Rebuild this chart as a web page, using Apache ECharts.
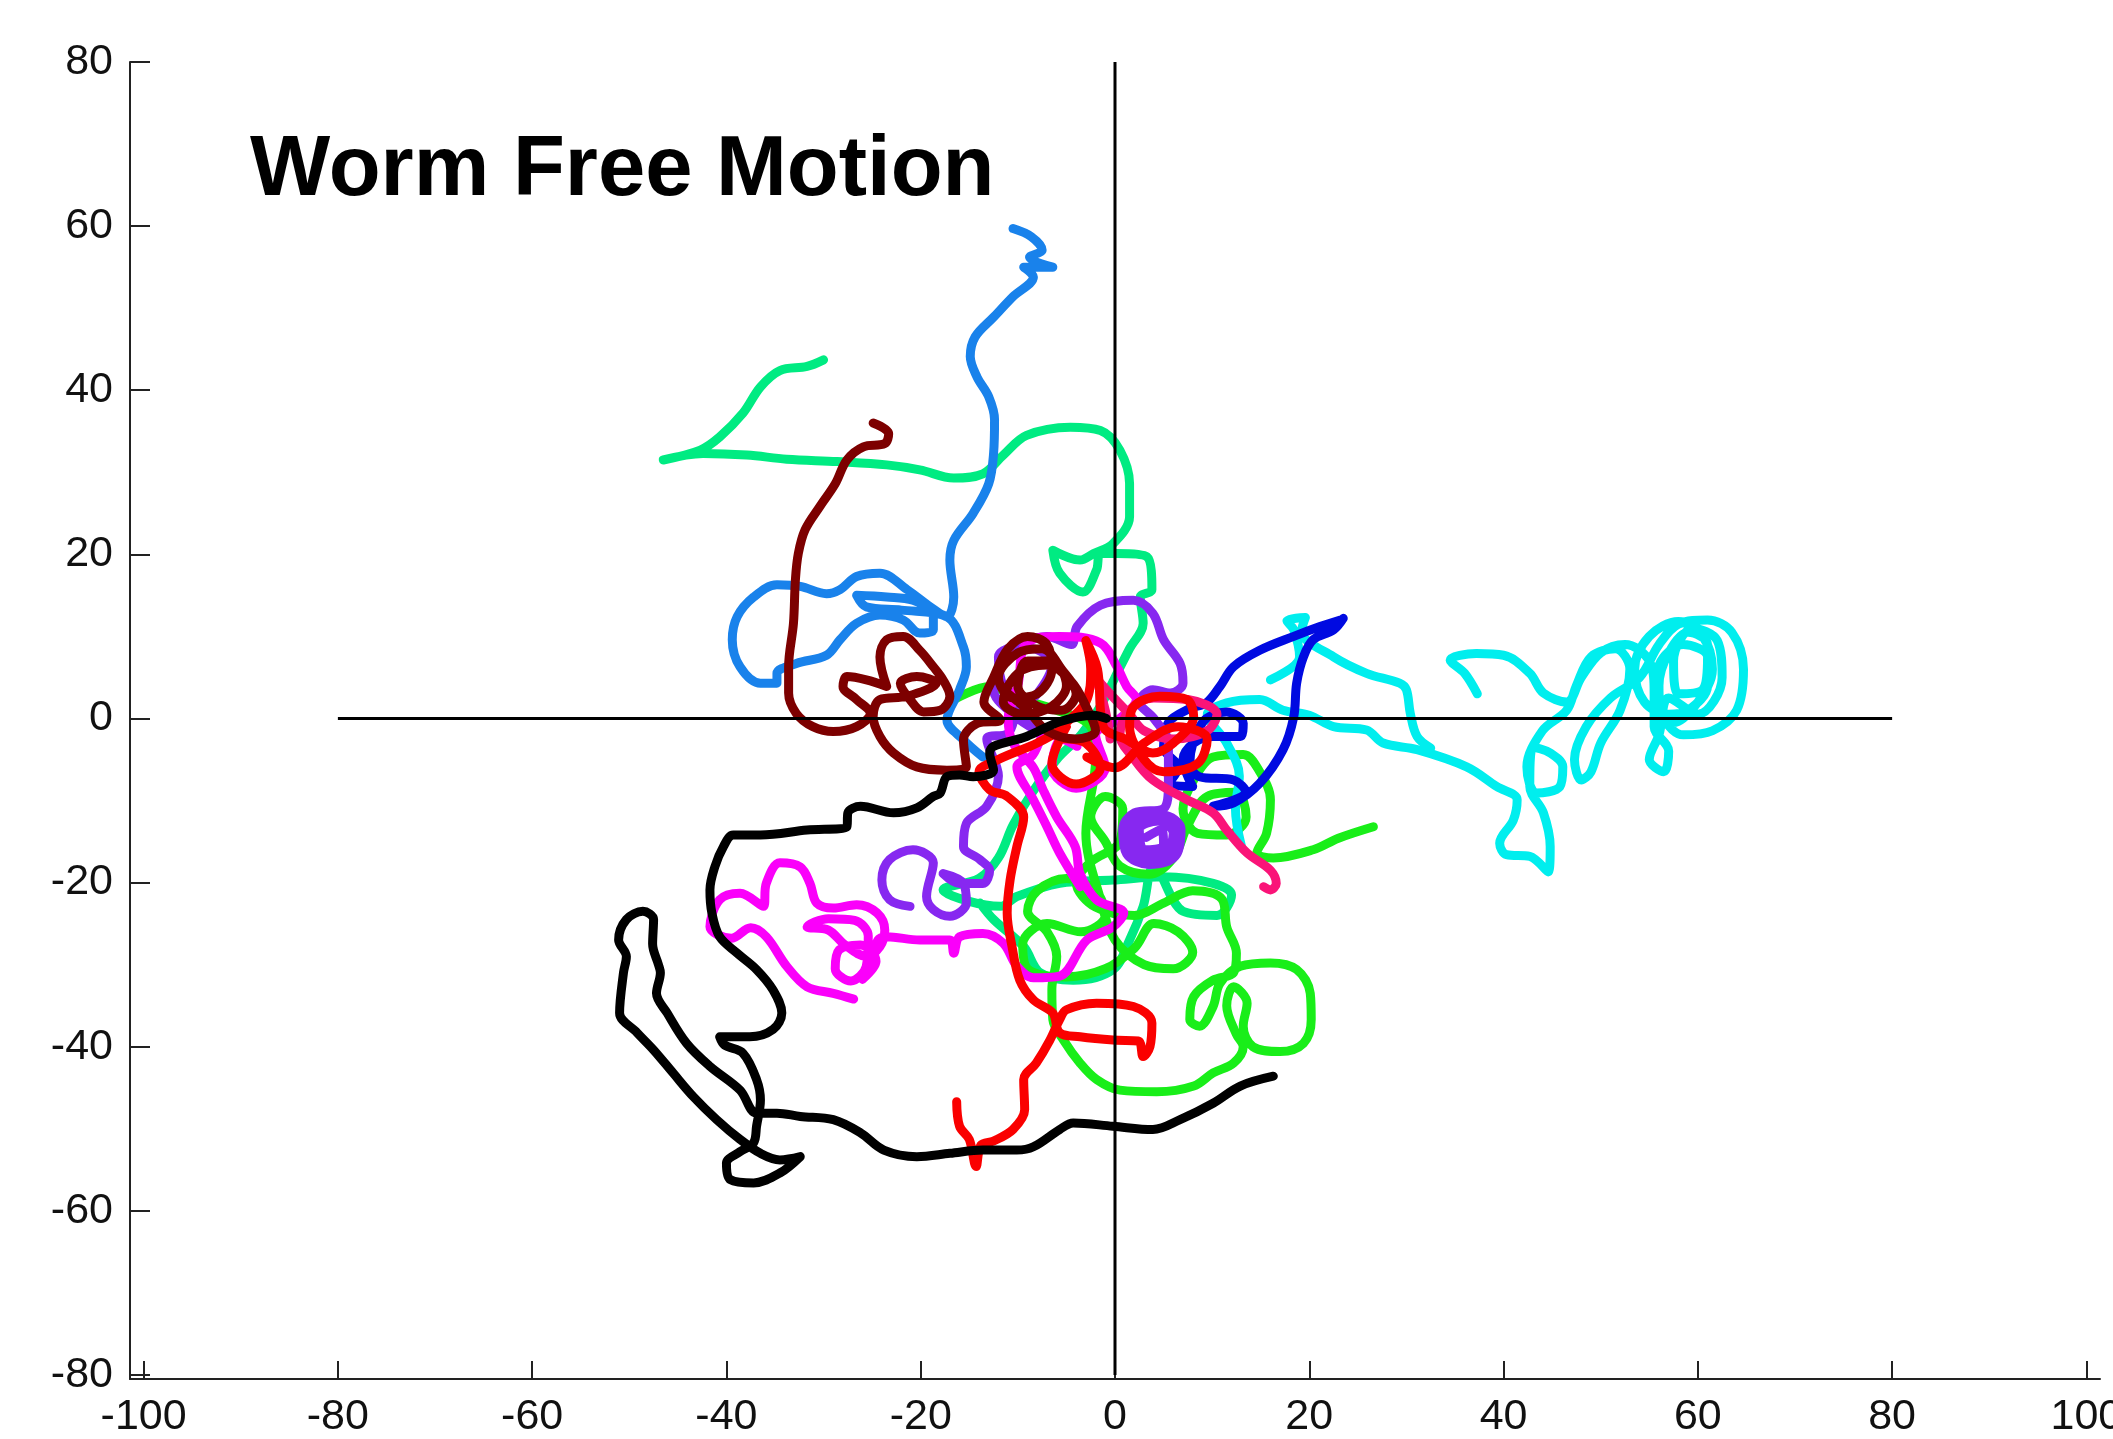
<!DOCTYPE html>
<html>
<head>
<meta charset="utf-8">
<script src="https://cdn.jsdelivr.net/npm/echarts@6/dist/echarts.min.js"></script>
<style>
html,body{margin:0;padding:0;background:#fff;}
#chart{width:2113px;height:1439px;}
</style>
</head>
<body>
<div id="chart"></div>
<script>
// ---------------- DATA ----------------
const titleText = "Worm Free Motion";
const xTicks = [-100, -80, -60, -40, -20, 0, 20, 40, 60, 80, 100];
const yTicks = [-80, -60, -40, -20, 0, 20, 40, 60, 80];

const crossV = [[0, 80], [0, -80]];
const crossH = [[-80, 0], [80, 0]];

const wormDodger = [[-10.5,59.7],[-8.6,58.7],[-7.5,57.1],[-8.8,56.2],[-6.4,55.0],[-9.4,55.0],[-8.4,53.8],[-10.5,51.4],[-12.5,48.9],[-14.4,46.5],[-14.9,44.1],[-14.2,41.6],[-13.0,39.2],[-12.4,36.4],[-12.5,32.3],[-13.0,28.6],[-14.6,25.0],[-16.6,21.7],[-17.0,19.3],[-16.6,14.8],[-17.3,12.4],[-19.0,13.6],[-21.4,15.7],[-24.2,17.7],[-26.6,17.3],[-28.3,15.7],[-29.7,15.2],[-32.4,16.1],[-34.8,16.3],[-37.2,14.8],[-38.9,12.4],[-39.4,9.6],[-38.6,6.3],[-36.5,4.3],[-34.8,4.3],[-34.8,5.5],[-32.8,6.7],[-29.7,7.7],[-28.3,9.6],[-26.6,11.6],[-24.2,12.6],[-21.8,12.0],[-20.1,10.4],[-18.7,10.8],[-18.7,12.8],[-20.8,14.4],[-23.5,14.8],[-26.6,15.0],[-25.6,13.6],[-22.0,13.2],[-17.3,12.4],[-15.6,8.7],[-15.3,6.3],[-16.0,3.5],[-17.3,-0.2],[-15.6,-2.6],[-13.6,-4.7]];

const wormSpring = [[-30.0,43.7],[-31.7,42.9],[-34.5,42.4],[-36.5,40.4],[-38.3,37.2],[-40.7,34.3],[-42.7,32.7],[-46.5,31.5],[-42.4,32.3],[-37.9,32.1],[-33.8,31.6],[-28.6,31.3],[-23.5,30.9],[-20.1,30.3],[-16.6,29.3],[-13.6,29.8],[-11.5,32.1],[-9.1,34.5],[-4.6,35.5],[-1.5,35.1],[0.5,32.7],[1.5,28.6],[1.5,24.6],[-0.2,21.3],[-2.2,20.1],[-3.6,19.3],[-6.4,20.5],[-5.7,17.7],[-3.3,15.4],[-1.9,18.1],[-1.5,20.1],[0.2,20.1],[3.3,19.7],[3.8,15.7],[2.6,14.8],[2.9,11.6],[1.5,8.5],[0.0,5.0],[-1.5,1.5],[-3.5,-2.0],[-6.0,-5.0],[-8.5,-9.0],[-10.5,-13.0],[-12.0,-17.0],[-14.0,-19.5],[-17.7,-20.9],[-15.0,-22.3],[-11.8,-22.9],[-10.1,-21.7],[-5.7,-20.1],[-0.2,-19.7],[5.0,-19.3],[10.1,-20.1],[12.0,-21.5],[10.5,-24.0],[7.0,-23.5],[4.0,-18.0],[2.9,-22.9],[1.5,-27.0],[-0.2,-30.6],[-4.3,-31.9],[-7.7,-31.0],[-9.4,-27.8],[-12.5,-24.5],[-13.9,-22.5]];

const wormLime = [[26.6,-13.2],[23.0,-14.6],[20.4,-16.0],[16.3,-17.0],[14.6,-16.4],[15.6,-14.0],[16.0,-9.9],[14.9,-6.5],[13.2,-4.4],[10.1,-4.7],[8.1,-7.5],[7.0,-11.0],[8.5,-14.0],[11.5,-14.2],[13.5,-12.0],[12.5,-9.0],[9.5,-9.5],[7.5,-13.0],[6.0,-17.0],[3.5,-19.0],[0.5,-18.0],[-1.0,-15.0],[-2.5,-12.0],[-1.0,-9.5],[0.8,-11.0],[0.5,-15.0],[-2.5,-17.5],[-4.0,-20.0],[-2.0,-23.0],[2.0,-24.0],[5.0,-22.5],[8.0,-21.0],[11.0,-22.0],[11.5,-25.4],[12.5,-28.6],[12.2,-31.0],[10.1,-31.9],[8.1,-33.9],[7.7,-36.7],[8.7,-37.5],[10.1,-35.1],[10.8,-32.3],[12.9,-30.2],[16.0,-29.8],[18.7,-30.6],[20.1,-33.5],[20.2,-36.7],[19.4,-39.6],[17.0,-40.6],[14.2,-40.0],[13.2,-37.5],[13.6,-34.7],[12.2,-32.7],[11.5,-35.0],[12.5,-38.5],[13.2,-40.0],[12.2,-42.0],[10.1,-43.2],[8.1,-44.8],[4.3,-45.5],[0.5,-45.3],[-1.9,-44.0],[-3.6,-42.0],[-5.3,-39.2],[-6.4,-36.7],[-6.5,-33.0],[-6.0,-29.0],[-7.0,-26.0],[-9.0,-23.5],[-8.0,-21.0],[-5.0,-19.5],[-2.0,-21.0],[-1.0,-24.0],[-3.5,-26.0],[-7.0,-25.0],[-9.5,-27.5],[-9.0,-30.5],[-5.0,-31.5],[-1.0,-30.5],[2.0,-28.0],[4.0,-25.0],[6.5,-26.0],[8.0,-28.5],[6.0,-30.5],[3.0,-30.0],[0.0,-27.0],[-1.5,-22.0],[-3.0,-14.0],[-2.0,-5.0],[-2.5,-1.0],[-6.0,1.0],[-10.0,2.5],[-12.9,3.9],[-16.6,2.3]];

const wormCyan = [[13.0,-15.5],[12.4,-11.0],[12.8,-7.0],[11.5,-3.0],[9.5,0.5],[11.5,1.9],[14.9,2.3],[17.3,1.0],[20.0,0.4],[22.5,-1.0],[25.9,-1.4],[27.6,-3.0],[31.1,-3.8],[36.2,-5.9],[39.3,-8.3],[41.4,-9.9],[41.0,-12.4],[39.6,-15.2],[40.3,-16.6],[42.7,-16.8],[44.6,-18.7],[44.8,-15.6],[44.1,-11.5],[42.7,-8.3],[43.0,-3.5],[44.8,-4.2],[46.1,-5.9],[45.8,-8.3],[43.4,-9.1],[42.4,-5.9],[44.0,-1.5],[46.5,1.0],[47.5,4.0],[49.0,7.5],[51.5,8.5],[53.0,6.0],[52.0,1.0],[50.0,-3.0],[49.0,-6.5],[48.0,-7.5],[47.3,-5.0],[48.5,-1.0],[51.0,2.5],[54.0,5.0],[56.0,9.0],[58.0,11.5],[61.0,12.0],[63.5,10.5],[64.7,6.0],[64.0,1.0],[61.5,-1.5],[58.5,-2.0],[56.5,0.0],[56.0,4.0],[57.0,8.0],[59.0,10.5],[61.0,9.0],[61.0,4.0],[59.0,1.0],[57.0,0.5],[54.5,2.0],[53.5,6.0],[55.0,10.0],[58.0,11.8],[60.5,10.0],[61.5,6.0],[60.0,2.0],[57.5,-0.5],[55.5,1.5],[56.0,6.5],[58.5,9.0],[61.0,7.5],[60.5,3.5],[58.0,3.0],[57.5,7.0],[59.5,11.0],[62.0,9.5],[62.5,5.0],[60.0,0.5],[57.0,2.5],[56.0,-2.0],[55.0,-5.0],[56.5,-6.5],[57.0,-4.0],[55.5,-1.0],[55.5,3.0],[55.0,7.0],[52.5,9.0],[50.0,8.0],[48.0,5.0],[46.5,2.0],[44.1,3.1],[42.7,5.5],[40.0,7.7],[37.2,7.9],[34.5,7.1],[36.0,5.5],[37.3,3.0]];

const wormCyanUpper = [[16.0,4.7],[19.0,7.5],[18.4,10.8],[17.7,11.9],[19.6,12.3],[19.2,10.6],[22.5,7.5],[25.9,5.5],[29.3,4.3],[30.0,3.5],[30.4,0.6],[31.1,-2.2],[32.5,-3.6]];

const wormBlue = [[23.2,12.0],[21.1,11.2],[18.4,10.0],[14.9,8.3],[12.2,6.3],[10.8,3.9],[9.4,1.9],[7.7,1.2],[5.5,-0.5],[5.0,-3.5],[6.5,-6.0],[5.5,-8.0],[8.0,-8.3],[7.0,-5.0],[8.1,-3.0],[10.1,-2.2],[12.9,-2.2],[13.2,-0.6],[11.5,0.8],[9.0,-0.5],[7.7,-5.5],[8.7,-7.1],[12.2,-7.5],[13.5,-9.0],[10.1,-10.7],[12.2,-10.3],[14.9,-7.9],[17.3,-3.8],[18.4,0.2],[18.7,4.3],[19.4,7.5],[20.4,9.6],[22.5,10.8],[23.5,12.2]];

const wormPurple = [[-21.1,-22.9],[-23.2,-22.1],[-24.0,-19.7],[-23.2,-17.2],[-20.8,-16.0],[-18.7,-17.6],[-19.4,-21.7],[-18.7,-23.3],[-17.0,-24.1],[-15.3,-22.5],[-15.6,-20.1],[-17.7,-18.9],[-16.0,-20.1],[-13.6,-20.1],[-12.9,-18.5],[-13.9,-17.2],[-15.6,-15.6],[-15.3,-12.8],[-13.2,-10.7],[-12.0,-7.0],[-13.2,-2.5],[-11.0,-1.8],[-10.0,1.0],[-8.0,3.0],[-6.5,6.5],[-8.5,8.5],[-11.5,7.0],[-12.5,3.5],[-10.5,0.5],[-8.0,-1.5],[-10.0,2.5],[-11.5,4.0],[-12.0,7.5],[-10.0,9.0],[-7.0,10.0],[-4.5,9.0],[-3.9,11.2],[-1.5,13.8],[1.9,14.4],[3.9,12.8],[5.0,9.6],[6.7,6.7],[7.0,4.3],[5.7,3.1],[3.9,3.5],[2.5,2.0],[4.0,0.0],[5.5,-3.0],[5.5,-8.0],[5.0,-11.0],[2.0,-11.5],[0.8,-13.5],[1.2,-16.5],[3.5,-17.8],[6.2,-16.8],[6.8,-13.5],[5.0,-11.8],[2.0,-12.5],[1.5,-15.5],[3.5,-17.0],[6.0,-15.5],[6.0,-12.5],[3.5,-12.0],[1.8,-14.0],[2.5,-16.5],[5.0,-16.5],[6.0,-14.0],[4.5,-12.5],[2.5,-13.5],[3.0,-16.0],[5.0,-15.5],[4.8,-13.5],[3.2,-14.5]];

const wormMagenta = [[-26.9,-34.2],[-29.0,-33.5],[-31.7,-32.7],[-33.8,-30.2],[-35.9,-26.6],[-37.5,-25.5],[-39.5,-26.8],[-41.7,-25.4],[-40.7,-22.1],[-38.6,-21.3],[-36.2,-22.9],[-35.9,-20.1],[-34.5,-17.6],[-32.4,-18.1],[-31.4,-20.1],[-30.7,-22.5],[-29.0,-23.1],[-26.6,-22.7],[-24.5,-23.7],[-23.7,-25.8],[-24.2,-27.8],[-25.6,-29.0],[-27.8,-27.6],[-29.5,-25.8],[-31.7,-25.4],[-29.5,-24.4],[-26.8,-24.6],[-25.4,-26.5],[-25.6,-30.2],[-27.2,-32.0],[-28.8,-30.5],[-28.4,-28.2],[-26.2,-27.6],[-24.6,-29.6],[-26.0,-31.8],[-24.4,-27.0],[-23.5,-26.6],[-20.1,-27.0],[-17.0,-27.0],[-16.6,-28.6],[-16.0,-26.6],[-13.6,-26.2],[-11.5,-27.4],[-10.1,-30.2],[-8.4,-31.6],[-5.7,-31.4],[-2.9,-27.0],[-0.2,-25.4],[0.9,-23.7],[-1.9,-22.1],[-3.6,-18.9],[-4.1,-15.6],[-6.0,-12.0],[-7.4,-8.7],[-8.4,-6.0],[-10.5,-3.0],[-11.0,0.0],[-10.0,4.0],[-9.1,9.2],[-5.7,10.0],[-1.5,9.2],[0.2,6.3],[1.2,3.9],[2.2,2.3],[0.5,0.0],[-2.0,-2.0],[-1.0,-6.0],[-4.0,-8.5],[-6.5,-6.0],[-5.5,-2.5],[-3.9,-3.4],[-7.0,-1.8],[-8.5,-4.5],[-10.1,-5.9],[-8.4,-9.9],[-7.0,-13.2],[-5.7,-16.4],[-3.6,-20.5]];

const wormRed = [[-16.3,-46.7],[-16.0,-49.7],[-15.0,-51.3],[-14.3,-54.6],[-13.8,-52.0],[-12.5,-51.5],[-10.5,-50.1],[-9.3,-47.7],[-9.4,-44.0],[-8.1,-42.0],[-6.7,-39.2],[-5.7,-36.7],[-5.0,-35.5],[-1.9,-34.7],[1.9,-35.1],[3.8,-37.1],[3.6,-40.0],[2.9,-41.2],[2.4,-39.3],[-0.2,-39.2],[-3.6,-38.8],[-5.7,-38.3],[-6.4,-35.9],[-8.4,-34.3],[-9.8,-31.9],[-10.6,-27.8],[-11.1,-23.7],[-10.8,-19.7],[-10.1,-15.6],[-9.4,-12.0],[-11.1,-9.5],[-12.9,-8.7],[-14.0,-6.5],[-12.0,-5.0],[-8.0,-3.0],[-5.0,-1.0],[-6.5,-5.5],[-4.0,-8.0],[-1.5,-6.0],[-3.0,-3.0],[-6.0,-2.0],[-3.0,2.0],[-2.5,6.0],[-3.0,9.5],[-1.8,6.0],[-1.2,-1.0],[1.2,-2.6],[3.9,-4.2],[6.0,-3.0],[8.1,0.2],[7.4,2.3],[4.6,2.7],[1.9,1.4],[1.5,-1.0],[3.0,-5.0],[5.0,-6.5],[8.5,-5.5],[9.5,-2.5],[6.5,-1.0],[3.0,-3.0],[0.0,-6.0],[-2.9,-4.7]];

const wormCrimson = [[15.3,-20.5],[16.0,-20.9],[16.6,-20.1],[16.0,-18.5],[13.6,-16.4],[11.5,-13.6],[10.1,-11.5],[7.4,-9.9],[3.9,-7.5],[2.0,-5.0],[0.5,-2.0],[1.5,1.0],[4.0,2.5],[7.5,2.3],[10.5,0.5],[9.5,-1.5],[6.0,-2.5],[3.0,-1.5],[1.5,0.5],[-0.5,3.0],[-2.0,5.0],[-1.0,1.0],[-0.5,-2.5]];

const wormMaroon = [[-24.9,36.0],[-23.3,34.7],[-23.7,33.5],[-25.9,33.1],[-27.6,31.5],[-28.8,28.6],[-30.4,25.8],[-31.9,23.0],[-32.6,20.1],[-32.9,16.9],[-33.1,11.6],[-33.6,6.3],[-33.6,3.1],[-32.8,0.6],[-31.1,-1.0],[-29.0,-1.6],[-26.6,-1.0],[-25.2,0.6],[-26.6,2.3],[-28.0,3.9],[-27.6,5.1],[-25.6,4.7],[-23.5,3.9],[-24.2,7.5],[-23.5,9.6],[-21.8,10.0],[-20.1,8.3],[-18.7,6.3],[-17.7,4.7],[-17.0,2.7],[-18.0,1.0],[-19.7,0.8],[-21.1,2.3],[-22.1,4.3],[-20.4,5.1],[-18.4,4.3],[-21.4,2.7],[-24.2,2.3],[-24.9,0.2],[-24.2,-2.2],[-22.8,-4.2],[-20.4,-5.9],[-17.3,-6.3],[-15.3,-5.9],[-15.6,-2.6],[-14.2,-0.6],[-11.8,-0.2],[-13.5,2.0],[-12.5,5.0],[-11.0,8.5],[-9.0,10.0],[-7.0,9.0],[-6.5,6.0],[-8.0,3.0],[-10.5,2.5],[-12.0,5.0],[-10.0,8.0],[-7.5,8.5],[-5.5,6.0],[-4.0,3.0],[-5.5,1.0],[-8.0,1.5],[-10.0,4.0],[-9.0,7.0],[-6.5,7.0],[-5.0,4.0],[-6.5,1.5],[-9.5,0.5],[-11.5,2.0],[-10.0,5.5],[-7.0,6.5],[-4.5,4.5],[-3.0,1.5],[-2.0,-1.5],[-4.0,-2.5],[-7.0,-1.5],[-9.0,1.0],[-11.0,3.0]];

const wormBlack = [[-0.9,0.0],[-2.2,0.4],[-5.7,-0.4],[-9.1,-2.2],[-12.5,-3.4],[-12.9,-4.2],[-12.5,-6.3],[-14.6,-7.1],[-16.0,-6.9],[-17.3,-7.1],[-18.0,-9.1],[-18.7,-9.5],[-20.4,-10.9],[-22.8,-11.5],[-26.2,-10.7],[-27.5,-11.5],[-27.6,-13.2],[-31.7,-13.6],[-36.5,-14.2],[-39.3,-14.2],[-40.3,-15.6],[-41.2,-18.1],[-41.7,-20.9],[-41.5,-23.7],[-40.7,-26.6],[-38.9,-28.6],[-36.9,-30.6],[-35.2,-33.1],[-34.3,-35.9],[-35.2,-37.9],[-37.6,-38.8],[-40.7,-38.8],[-40.2,-39.8],[-38.3,-40.8],[-36.9,-44.0],[-36.5,-46.5],[-36.9,-49.7],[-37.2,-51.7],[-38.6,-52.8],[-40.0,-54.2],[-39.6,-56.2],[-37.2,-56.6],[-34.5,-55.4],[-32.4,-53.4],[-34.5,-53.8],[-36.5,-53.0],[-38.6,-51.3],[-41.0,-48.9],[-43.4,-46.1],[-45.5,-43.2],[-47.5,-40.4],[-49.2,-38.3],[-51.0,-35.9],[-50.6,-31.0],[-50.3,-29.0],[-51.1,-27.0],[-50.3,-24.5],[-48.6,-23.5],[-47.5,-24.5],[-47.6,-27.5],[-47.0,-30.0],[-46.8,-31.0],[-47.2,-33.5],[-46.1,-35.9],[-44.1,-39.6],[-41.7,-42.4],[-38.6,-45.3],[-36.9,-48.1],[-34.8,-48.1],[-32.4,-48.5],[-29.0,-48.9],[-26.2,-50.5],[-23.8,-52.6],[-20.4,-53.4],[-17.0,-53.0],[-13.6,-52.6],[-10.1,-52.6],[-8.4,-52.2],[-5.7,-50.1],[-4.3,-49.3],[-0.2,-49.7],[3.9,-50.1],[6.7,-48.9],[10.1,-46.9],[12.9,-44.8],[16.3,-43.6]];

// ---------------- STYLE ----------------
const wormStyles = [
  {name: 'spring', data: wormSpring, color: 'rgb(0,235,130)'},
  {name: 'lime', data: wormLime, color: 'rgb(25,238,25)'},
  {name: 'cyan', data: wormCyan, color: 'rgb(0,238,238)'},
  {name: 'cyan2', data: wormCyanUpper, color: 'rgb(0,238,238)'},
  {name: 'dodger', data: wormDodger, color: 'rgb(25,130,235)'},
  {name: 'blue', data: wormBlue, color: 'rgb(0,10,225)'},
  {name: 'purple', data: wormPurple, color: 'rgb(135,40,240)'},
  {name: 'magenta', data: wormMagenta, color: 'rgb(250,0,250)'},
  {name: 'crimson', data: wormCrimson, color: 'rgb(250,20,120)'},
  {name: 'red', data: wormRed, color: 'rgb(250,0,0)'},
  {name: 'maroon', data: wormMaroon, color: 'rgb(125,0,0)'},
  {name: 'black', data: wormBlack, color: 'rgb(0,0,0)'}
];

const FONT = '"Liberation Sans", Arial, Helvetica, sans-serif';

const series = wormStyles.map(w => ({
  type: 'line',
  name: w.name,
  data: w.data,
  showSymbol: false,
  symbol: 'none',
  smooth: 0.35,
  silent: true,
  lineStyle: {color: w.color, width: 9, cap: 'round', join: 'round'},
  z: 2
}));

[crossV, crossH].forEach((d, i) => {
  series.push({
    type: 'line',
    name: 'axis' + i,
    data: d,
    showSymbol: false,
    symbol: 'none',
    silent: true,
    lineStyle: {color: '#000', width: 3},
    z: 5
  });
});

const chart = echarts.init(document.getElementById('chart'), null, {renderer: 'canvas'});
chart.setOption({
  animation: false,
  backgroundColor: '#ffffff',
  grid: {left: 130, right: 13, top: 62, bottom: 60, containLabel: false, outerBoundsMode: 'none'},
  xAxis: {
    type: 'value',
    min: -101.4,
    max: 101.4,
    position: 'bottom',
    axisLine: {show: true, onZero: false, lineStyle: {color: '#222', width: 2}},
    axisTick: {show: true, inside: true, length: 18, customValues: xTicks, lineStyle: {color: '#222', width: 2}},
    axisLabel: {show: true, customValues: xTicks, margin: 17, fontSize: 43, color: '#111', fontFamily: FONT},
    splitLine: {show: false}
  },
  yAxis: {
    type: 'value',
    min: -80.5,
    max: 80,
    position: 'left',
    axisLine: {show: true, onZero: false, lineStyle: {color: '#222', width: 2}},
    axisTick: {show: true, inside: true, length: 20, customValues: yTicks, lineStyle: {color: '#222', width: 2}},
    axisLabel: {show: true, customValues: yTicks, margin: 17, fontSize: 43, color: '#111', fontFamily: FONT},
    splitLine: {show: false}
  },
  graphic: [{
    type: 'text',
    x: 250,
    y: 172,
    z: 10,
    style: {
      text: titleText,
      fill: '#000',
      font: 'bold 85px ' + FONT,
      align: 'left',
      verticalAlign: 'middle',
      textAlign: 'left',
      textVerticalAlign: 'middle'
    }
  }],
  series: series
});
</script>
</body>
</html>
